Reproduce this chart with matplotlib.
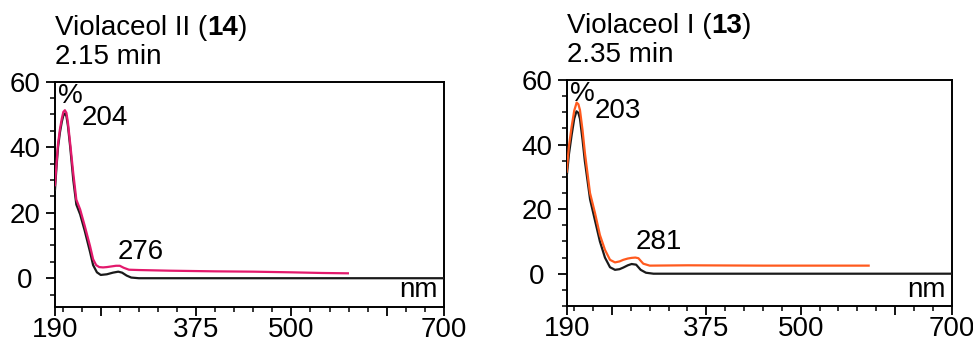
import numpy as np
from matplotlib import pyplot as plt
from matplotlib.ticker import FixedLocator, MultipleLocator

plt.rcParams['font.family'] = ['Liberation Sans', 'DejaVu Sans']

# Violaceol II (14), 2.15 min
wl_14_pink = [190, 192, 194, 196.5, 199, 201, 203, 205, 207, 210, 214, 218, 223, 229, 236, 240,
              244, 248, 253, 258, 264, 270, 275, 280, 287, 300, 340, 400, 450, 500, 540, 574]
ab_14_pink = [28.4, 35, 41, 45.5, 48.8, 50.8, 51.3, 50.5, 47.5, 41, 32, 24, 21, 16, 9.8, 5.8,
              4.0, 3.4, 3.3, 3.4, 3.6, 3.8, 3.8, 3.2, 2.6, 2.5, 2.3, 2.1, 2.0, 1.8, 1.6, 1.5]
wl_14_black = [190, 192, 194, 196.5, 199, 201, 203, 205, 207, 210, 214, 218, 223, 229, 236, 240,
               245, 250, 258, 266, 273, 278, 284, 290, 300, 700]
ab_14_black = [27, 34, 40, 44.5, 47.8, 49.7, 50.3, 49.5, 46.5, 40, 30, 22.5, 19.5, 14.5, 8, 4,
               1.8, 1.0, 1.2, 1.7, 2.0, 1.7, 0.8, 0.2, 0, 0]

# Violaceol I (13), 2.35 min
wl_13_orange = [190, 193, 196.6, 200, 203.2, 205.5, 207.6, 211, 214.2, 220.9, 227.5, 234, 240.7,
                247.4, 254, 260, 265, 271, 276, 281, 285, 288, 291.5, 300, 350, 450, 590]
ab_13_orange = [31.6, 39.5, 45.6, 50.5, 53, 52.5, 50.7, 44.5, 37.3, 25, 18.8, 12, 7.4,
                4.3, 3.5, 3.8, 4.3, 4.7, 4.9, 5.0, 4.8, 4.0, 3.1, 2.5, 2.6, 2.5, 2.5]
wl_13_black = [190, 193, 196.6, 200, 203, 205.5, 207.6, 211, 214, 221, 227.5, 234, 240.7,
               247.4, 254, 260, 265, 271, 276, 282, 288, 295, 305, 700]
ab_13_black = [30, 37, 43, 48, 50.3, 49.8, 48, 41.5, 35, 23, 16.5, 10, 5,
               2, 1.2, 1.4, 1.9, 2.6, 3.0, 2.8, 1.2, 0.3, 0, 0]

xtick_labels = {190: '190', 375: '375', 500: '500', 700: '700'}
major_x = [190, 250, 375, 500, 625, 700]

panels = [
    dict(rect=[0.0565, 0.1084, 0.3998, 0.654], ybot=-8.7, name='Violaceol II (', num='14', time='2.15 min',
         wl=wl_14_pink, ab=ab_14_pink, wl_k=wl_14_black, ab_k=ab_14_black, color='#E3196C',
         peaks=[('204', 225, 49), ('276', 272.5, 7.9)]),
    dict(rect=[0.5824, 0.1105, 0.3957, 0.657], ybot=-10, name='Violaceol I (', num='13', time='2.35 min',
         wl=wl_13_orange, ab=ab_13_orange, wl_k=wl_13_black, ab_k=ab_13_black, color='#FF5A1E',
         peaks=[('203', 227.5, 50.3), ('281', 281.4, 9.9)]),
]

fs = 20
fig = plt.figure(figsize=(9.73, 3.44), dpi=100)
W, H = fig.get_size_inches()

for p in panels:
    ax = fig.add_axes(p['rect'])
    ax.plot(p['wl_k'], p['ab_k'], color='#1a1a1a', linewidth=1.6, zorder=3)
    ax.plot(p['wl'], p['ab'], color=p['color'], linewidth=1.6, zorder=4)
    ax.set_xlim(190, 700)
    ax.set_ylim(p['ybot'], 60)

    ax.xaxis.set_major_locator(FixedLocator(major_x))
    ax.xaxis.set_minor_locator(MultipleLocator(25))
    ax.set_xticklabels([xtick_labels.get(v, '') for v in major_x])
    ax.yaxis.set_major_locator(FixedLocator([0, 20, 40, 60]))
    ax.yaxis.set_minor_locator(MultipleLocator(5))

    ax.tick_params(axis='both', which='major', direction='out', length=6.5, width=1.3,
                   labelsize=fs, pad=1)
    ax.tick_params(axis='both', which='minor', direction='out', length=3.5, width=1.1)
    ax.tick_params(axis='y', which='major', pad=15)
    for lab in ax.get_yticklabels():
        lab.set_horizontalalignment('center')
    for s in ax.spines.values():
        s.set_linewidth(1.4)

    ax.text(0.008, 0.995, '%', transform=ax.transAxes, ha='left', va='top', fontsize=fs)
    ax.text(0.985, 0.015, 'nm', transform=ax.transAxes, ha='right', va='bottom', fontsize=fs)
    for lbl, x, y in p['peaks']:
        ax.text(x, y, lbl, ha='left', va='center', fontsize=fs, zorder=5)

    # title lines above the axes
    t1 = ax.annotate(p['name'], xy=(0, 1), xycoords='axes fraction', xytext=(0, 33.6),
                     textcoords='offset points', ha='left', va='baseline', fontsize=fs)
    fig.canvas.draw()
    bb = t1.get_window_extent()
    y_base = p['rect'][1] + p['rect'][3] + 33.6 / 72 / H
    t2 = fig.text(bb.x1 / fig.dpi / W, y_base, p['num'], fontsize=fs,
                  fontweight='bold', ha='left', va='baseline')
    fig.canvas.draw()
    bb2 = t2.get_window_extent()
    fig.text(bb2.x1 / fig.dpi / W, y_base, ')', fontsize=fs, ha='left', va='baseline')
    ax.annotate(p['time'], xy=(0, 1), xycoords='axes fraction', xytext=(0, 12.7),
                textcoords='offset points', ha='left', va='baseline', fontsize=fs)

fig.savefig('out.png', dpi=100)
